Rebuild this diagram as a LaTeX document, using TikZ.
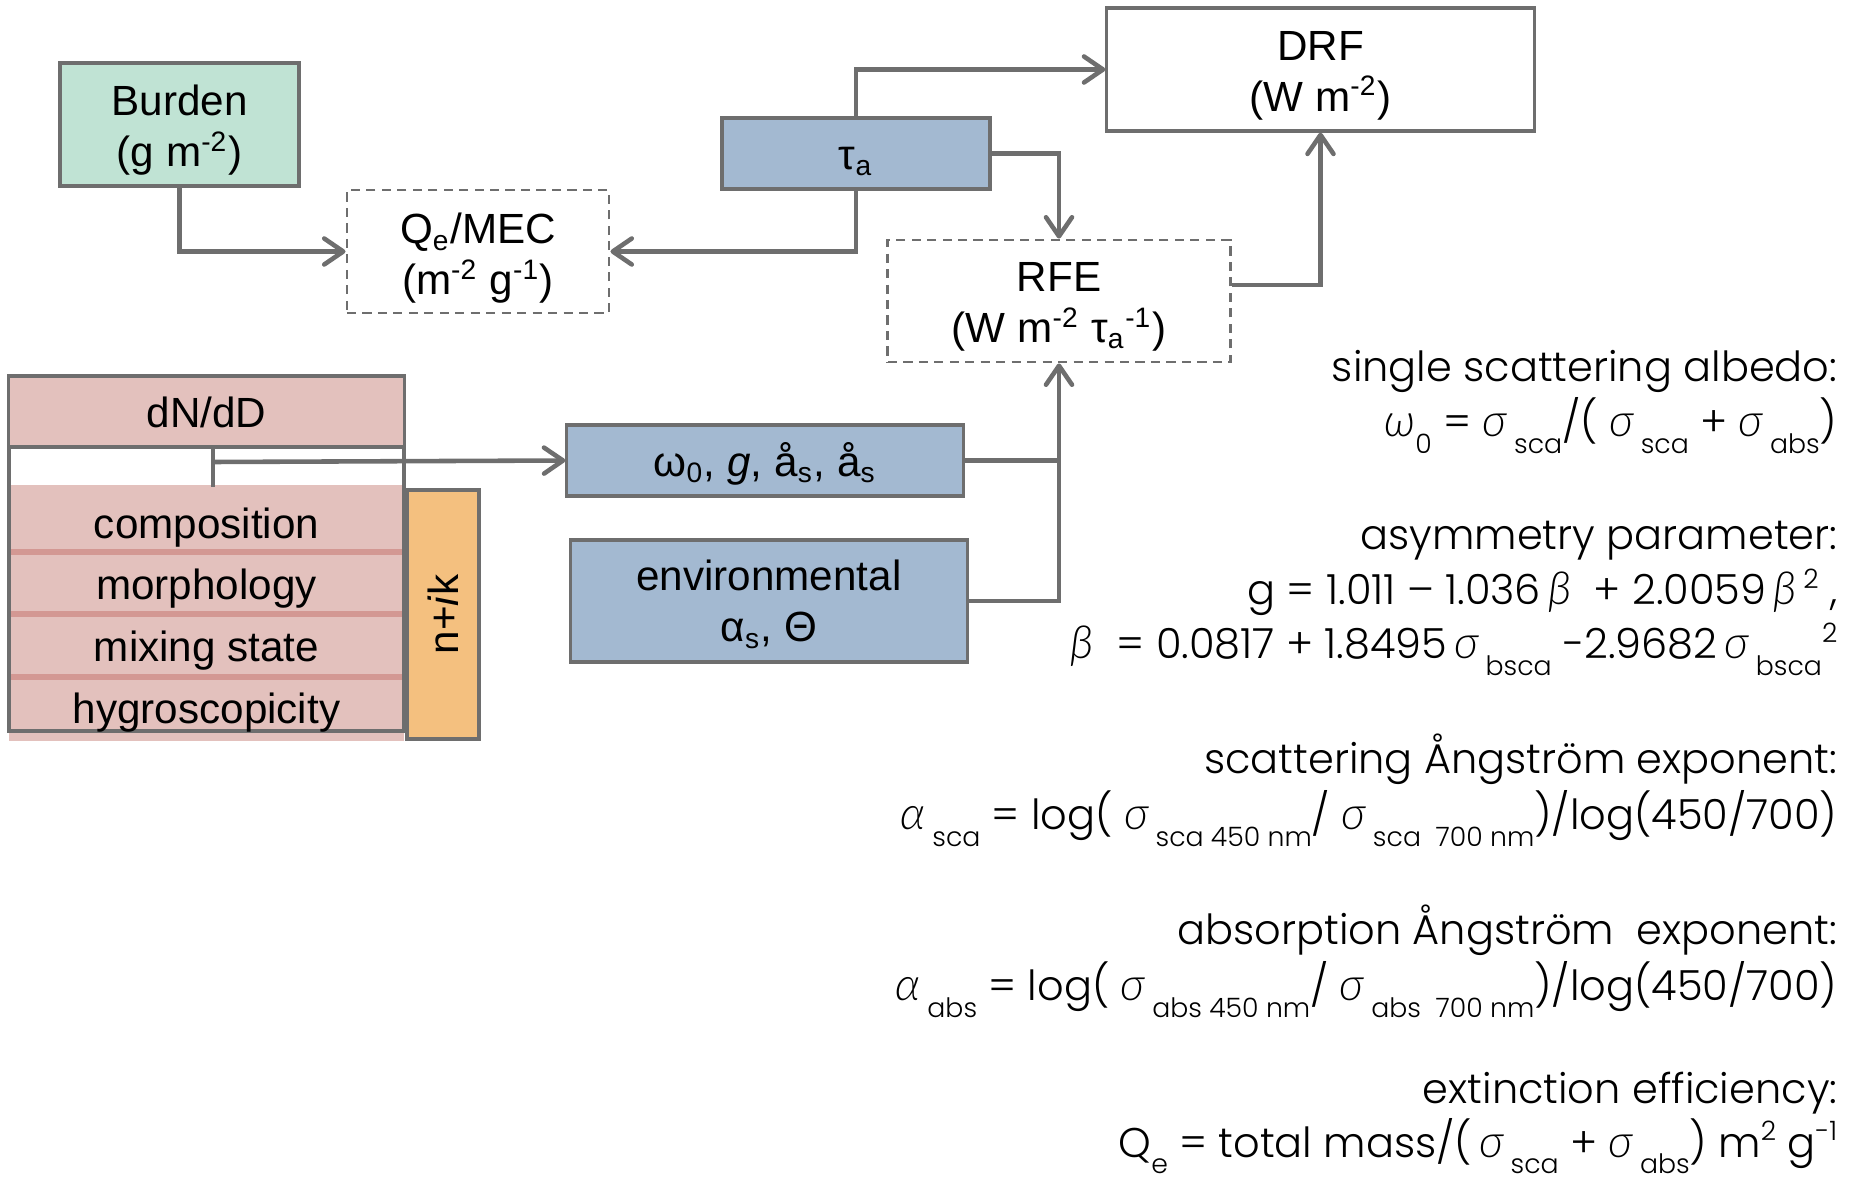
\documentclass[tikz,border=0pt]{standalone}
\usepackage{fontspec}
\usetikzlibrary{arrows.meta,calc}
\setmainfont{Liberation Sans}
\IfFontExistsTF{Poppins Light}{\newfontfamily\eqfont{Poppins Light}}{\newfontfamily\eqfont{Poppins}}
\IfFontExistsTF{Lato Light Italic}
  {\newfontfamily\grk{Lato Light Italic}[Scale=1.1]\newcommand\gr[1]{{\grk #1}}}
  {\newfontfamily\grk{Lato}[Scale=1.1]\newcommand\gr[1]{{\grk\itshape #1}}}
\newcommand\lo[1]{\raisebox{-0.75ex}{\fontsize{7.6}{8}\selectfont #1}}
\newcommand\hi[1]{\raisebox{0.75ex}{\fontsize{7.6}{8}\selectfont #1}}
\definecolor{greenfill}{HTML}{C0E3D4}
\definecolor{bluefill}{HTML}{A3B9D1}
\definecolor{pinkfill}{HTML}{E3C1BD}
\definecolor{sepcol}{HTML}{D39893}
\definecolor{orangefill}{HTML}{F4C07F}
\definecolor{linegray}{HTML}{6E6E6E}
\begin{document}
\begin{tikzpicture}[x=0.01cm,y=-0.01cm,
  box/.style={draw=linegray, line width=0.9pt, inner sep=0pt},
  dbox/.style={box, dash pattern=on 2.6pt off 1.8pt, line width=0.8pt},
  lbl/.style={inner sep=0pt, align=center, font=\fontsize{12}{14.5}\selectfont},
  conn/.style={draw=linegray, line width=1.3pt,
    -{Straight Barb[length=1.9mm,width=2.6mm,round]}},
  plain/.style={draw=linegray, line width=1.3pt},
  cell/.style={font=\fontsize{12}{14.5}\selectfont, inner sep=0pt, anchor=base},
  eq/.style={font=\eqfont\fontsize{11.8}{13}\selectfont, inner sep=0pt, anchor=base east}]
\useasboundingbox (0,0) rectangle (1853,1182);

% main boxes
\node[box, fill=greenfill, minimum width=2.39cm, minimum height=1.23cm] (burden) at (179.5,124.5) {};
\node[lbl, yshift=-0.06cm] (burdenL) at (burden.center) {Burden\\(g m\textsuperscript{-2})};
\node[dbox, minimum width=2.62cm, minimum height=1.23cm] (qe) at (478,251.5) {};
\node[lbl, yshift=-0.07cm] (qeL) at (qe.center)
  {Q\textsubscript{e}/MEC\\(m\textsuperscript{-2} g\textsuperscript{-1})};
\node[box, fill=bluefill, minimum width=2.68cm, minimum height=0.71cm] (tau) at (856,153.5) {};
\node[lbl, yshift=-0.08cm] (tauL) at (tau.center) {τ\textsubscript{a}};
\node[box, minimum width=4.27cm, minimum height=1.23cm] (drf) at (1320.5,69.5) {};
\node[lbl, yshift=-0.06cm] (drfL) at (drf.center) {DRF\\(W m\textsuperscript{-2})};
\node[dbox, minimum width=3.42cm, minimum height=1.22cm] (rfe) at (1059,301) {};
\node[lbl, yshift=-0.06cm] (rfeL) at (rfe.center)
  {RFE\\(W m\textsuperscript{-2} τ\textsubscript{a}\textsuperscript{-1})};
\node[box, fill=bluefill, minimum width=3.96cm, minimum height=0.71cm] (opt) at (765,460.5) {};
\node[lbl, yshift=-0.03cm] (optL) at (opt.center)
  {ω\textsubscript{0}, \textit{g}, å\textsubscript{s}, å\textsubscript{s}};
\node[box, fill=bluefill, minimum width=3.96cm, minimum height=1.22cm] (env) at (769,601) {};
\node[lbl, yshift=-0.035cm] (envL) at (env.center) {environmental\\α\textsubscript{s}, Θ};

% particle property stack
\fill[pinkfill] (9,485) rectangle (404,741);
\fill[sepcol] (9,549) rectangle (404,555);
\fill[sepcol] (9,611) rectangle (404,617);
\fill[sepcol] (9,674) rectangle (404,680);
\draw[linegray, line width=0.9pt] (9,376) rectangle (404,731);
\node[box, fill=pinkfill, minimum width=3.95cm, minimum height=0.71cm] (dndd) at (206.5,411.5) {};
\node[cell] (dnddL) at (206.5,428) {dN/dD};
\node[cell] (comp) at (206.5,538) {composition};
\node[cell] (morph) at (206.5,600) {morphology};
\node[cell] (mix) at (206.5,662) {mixing state};
\node[cell] (hygro) at (206.5,723) {hygroscopicity};
\node[box, fill=orangefill, minimum width=0.72cm, minimum height=2.49cm] (nik) at (443,614.5) {};
\node[lbl, rotate=90] (nikL) at (nik.center) {n+\textit{i}k};

% connectors
\draw[conn] (burden.south) |- (qe.west);
\draw[conn] (tau.south) |- (qe.east);
\draw[conn] (tau.north) |- (drf.west);
\draw[conn] (tau.east) -| (rfe.north);
\draw[conn] ([yshift=0.16cm]rfe.east) -| (drf.south);
\draw[conn] (opt.east) -| (rfe.south);
\coordinate (join) at (opt.east -| rfe.south);
\draw[plain] (env.east) -| (join);
\coordinate (tapTop) at (213,447);
\coordinate (tapBot) at (213,487);
\coordinate (tap) at (213,462);
\draw[plain] (tapTop) -- (tapBot);
\draw[conn] (tap) -- (opt.west);

% definitions
\node[eq] (t1) at (1838,382) {single scattering albedo:};
\node[eq] (t2) at (1838,437) {\gr{ω}\lo{0} = \gr{σ}\,\lo{sca}/( \gr{σ}\,\lo{sca} + \gr{σ}\,\lo{abs})};
\node[eq] (t3) at (1838,550) {asymmetry parameter:};
\node[eq] (t4) at (1838,605) {g = 1.011 – 1.036\,\gr{β}\ \ + 2.0059\,\gr{β}\,\hi{2} ,};
\node[eq] (t5) at (1838,659) {\gr{β}\ \ = 0.0817 + 1.8495\,\gr{σ}\,\lo{bsca} -2.9682\,\gr{σ}\,\lo{bsca}\hi{2}};
\node[eq] (t6) at (1838,774) {scattering Ångström exponent:};
\node[eq] (t7) at (1838,830) {\gr{α}\,\lo{sca} = log( \gr{σ}\,\lo{sca 450 nm}/ \gr{σ}\,\lo{sca\ \ 700 nm})/log(450/700)};
\node[eq] (t8) at (1838,945) {absorption Ångström\ \ exponent:};
\node[eq] (t9) at (1838,1001) {\gr{α}\,\lo{abs} = log( \gr{σ}\,\lo{abs 450 nm}/ \gr{σ}\,\lo{abs\ \ 700 nm})/log(450/700)};
\node[eq] (t10) at (1838,1103) {extinction efficiency:};
\node[eq] (t11) at (1838,1157) {Q\lo{e} = total mass/(\,\gr{σ}\,\lo{sca} +\ \gr{σ}\,\lo{abs}) m\hi{2} g\hi{-1}};
\end{tikzpicture}
\end{document}
